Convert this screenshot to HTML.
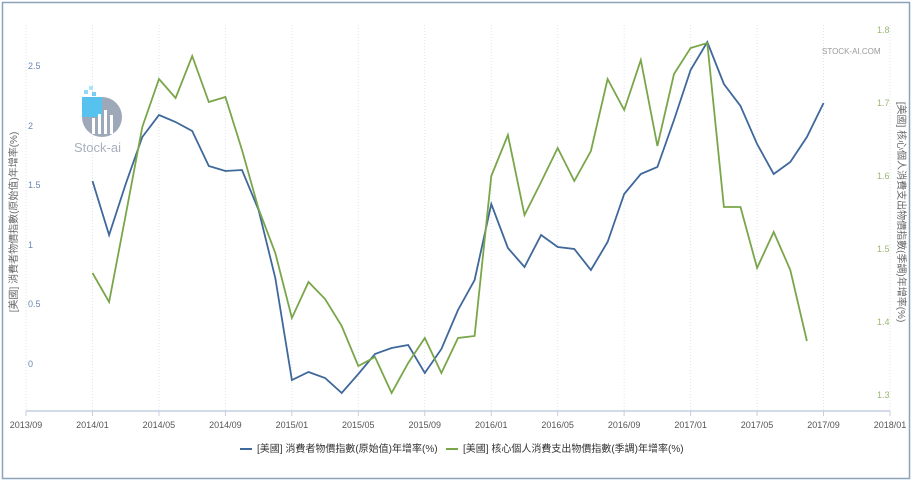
<!DOCTYPE html>
<html><head><meta charset="utf-8"><style>
html,body{margin:0;padding:0;background:#fff}
body{width:913px;height:484px;overflow:hidden}
svg text{font-family:"Liberation Sans","Noto Sans CJK TC",sans-serif}
</style></head><body>
<svg id="s" width="913" height="484" xmlns="http://www.w3.org/2000/svg">
<rect x="2.5" y="2.5" width="907" height="476" fill="#fff" stroke="#8aa4bb" stroke-width="1.5"/>
<g id="grid"></g>
<line x1="26" y1="411" x2="890" y2="411" stroke="#c5cfe0" stroke-width="1.5"/>
<g font-size="9" fill="#6b88b0">
<text x="28" y="367">0</text><text x="28" y="307">0.5</text><text x="28" y="248">1</text>
<text x="28" y="188">1.5</text><text x="28" y="129">2</text><text x="28" y="69">2.5</text>
</g>
<g font-size="9" fill="#9ab872">
<text x="877" y="398">1.3</text><text x="877" y="325">1.4</text><text x="877" y="252">1.5</text>
<text x="877" y="179">1.6</text><text x="877" y="106">1.7</text><text x="877" y="33">1.8</text>
</g>
<text x="822" y="54" font-size="8" fill="#999">STOCK-AI.COM</text>
<text transform="translate(17,222) rotate(-90)" text-anchor="middle" font-size="10" fill="#666">[美國] 消費者物價指數(原始值)年增率(%)</text>
<text transform="translate(898,212) rotate(90)" text-anchor="middle" font-size="10" fill="#666">[美國] 核心個人消費支出物價指數(季調)年增率(%)</text>
<g id="xl" font-size="9" fill="#555" text-anchor="middle"></g>
<g opacity="0.85">
<circle cx="102" cy="117" r="20" fill="#8d99ad"/>
<rect x="82" y="97" width="20" height="20" fill="#3cb8ec"/>
<rect x="92" y="118" width="3" height="16" fill="#fff"/><rect x="98" y="114" width="3" height="20" fill="#fff"/><rect x="104" y="110" width="3" height="24" fill="#fff"/><rect x="110" y="115" width="3" height="19" fill="#fff"/>
<rect x="84" y="90" width="4" height="4" fill="#7fd3f5"/><rect x="89" y="86" width="4" height="4" fill="#9fe0f8"/><rect x="92" y="92" width="4" height="4" fill="#5ec5f0"/>
<text x="74" y="152" font-size="13" fill="#9aa3b3">Stock-ai</text>
</g>
<polyline id="b" fill="none" stroke="#3f689b" stroke-width="1.8"/>
<polyline id="g" fill="none" stroke="#7aa64a" stroke-width="1.8"/>
<line x1="240" y1="449" x2="252" y2="449" stroke="#3f689b" stroke-width="2"/>
<text x="257" y="452" font-size="10" fill="#333">[美國] 消費者物價指數(原始值)年增率(%)</text>
<line x1="446" y1="449" x2="458" y2="449" stroke="#7aa64a" stroke-width="2"/>
<text x="463" y="452" font-size="10" fill="#333">[美國] 核心個人消費支出物價指數(季調)年增率(%)</text>
</svg>
<script>
var ns="http://www.w3.org/2000/svg",st=16.615,x0=92.5;
var labs=["2013/09","2014/01","2014/05","2014/09","2015/01","2015/05","2015/09","2016/01","2016/05","2016/09","2017/01","2017/05","2017/09","2018/01"];
var grid=document.getElementById("grid"),xl=document.getElementById("xl");
labs.forEach(function(l,i){var x=26+i*66.46;
var ln=document.createElementNS(ns,"line");ln.setAttribute("x1",x);ln.setAttribute("x2",x);ln.setAttribute("y1",25);ln.setAttribute("y2",411);
ln.setAttribute("stroke","#dde2ea");ln.setAttribute("stroke-dasharray","1,2");grid.appendChild(ln);
var tk=document.createElementNS(ns,"line");tk.setAttribute("x1",x);tk.setAttribute("x2",x);tk.setAttribute("y1",411);tk.setAttribute("y2",416);tk.setAttribute("stroke","#c5cfe0");grid.appendChild(tk);
var t=document.createElementNS(ns,"text");t.setAttribute("x",x);t.setAttribute("y",428);t.textContent=l;xl.appendChild(t);});
var B=[181,235,184,137,115,122,131,166,171,170,210,278,380,372,378,393,374,354,348,345,373,349,310,280,204,248,267,235,247,249,270,242,194,174,167,120,70,42,84,106,144,174,162,137,103];
var G=[273,302,215,127,79,98,56,102,97,150,209,253,318,282,299,326,366,357,393,363,338,373,338,336,176,135,215,182,148,181,151,79,110,60,146,74,48,43,207,207,268,232,270,341];
function p(a){return a.map(function(y,i){return (x0+i*st).toFixed(1)+","+y}).join(" ");}
document.getElementById("b").setAttribute("points",p(B));
document.getElementById("g").setAttribute("points",p(G));
</script>
</body></html>
